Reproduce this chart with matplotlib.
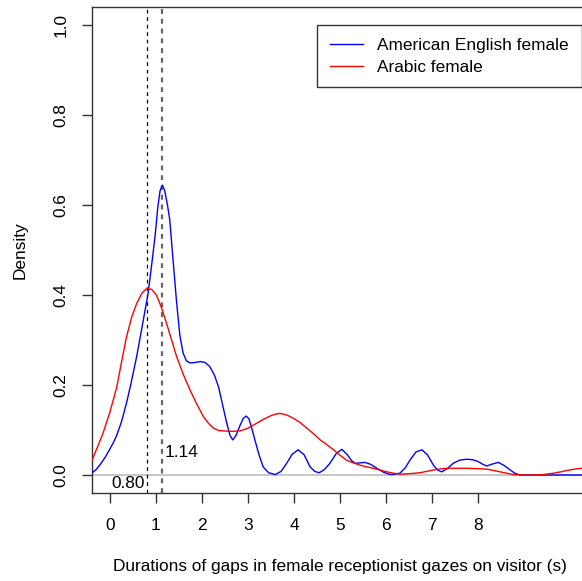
import matplotlib.pyplot as plt
import numpy as np

plt.rcParams['font.family'] = ['Liberation Sans', 'DejaVu Sans']

# density curves (x in seconds, y density)
eng_x = [-0.40, -0.30, -0.20, -0.10, 0.0, 0.08, 0.15, 0.25, 0.36, 0.45, 0.58, 0.70, 0.83,
         0.91, 0.98, 1.04, 1.09, 1.14, 1.19, 1.25, 1.30, 1.37, 1.45, 1.52, 1.59, 1.66,
         1.74, 1.85, 1.96, 2.07, 2.17, 2.27, 2.36, 2.45, 2.54, 2.61, 2.67, 2.74, 2.83,
         2.90, 2.96, 3.02, 3.08, 3.15, 3.24, 3.33, 3.45, 3.59, 3.72, 3.84, 3.96, 4.09,
         4.22, 4.35, 4.45, 4.55, 4.66, 4.78, 4.92, 5.04, 5.16, 5.25, 5.33, 5.44, 5.54,
         5.66, 5.80, 5.95, 6.09, 6.20, 6.30, 6.42, 6.52, 6.65, 6.78, 6.90, 7.03, 7.12,
         7.21, 7.33, 7.46, 7.60, 7.75, 7.88, 8.00, 8.10, 8.19, 8.30, 8.44, 8.57, 8.70,
         8.80, 8.91, 10.4]
eng_y = [0.004, 0.012, 0.025, 0.040, 0.058, 0.073, 0.089, 0.118, 0.160, 0.200, 0.263,
         0.330, 0.404, 0.470, 0.530, 0.595, 0.632, 0.644, 0.632, 0.600, 0.567, 0.480,
         0.382, 0.310, 0.271, 0.254, 0.249, 0.250, 0.252, 0.250, 0.241, 0.222, 0.196,
         0.155, 0.115, 0.088, 0.078, 0.088, 0.111, 0.126, 0.131, 0.125, 0.105, 0.078,
         0.045, 0.018, 0.005, 0.001, 0.008, 0.026, 0.046, 0.056, 0.045, 0.018, 0.008,
         0.005, 0.012, 0.026, 0.048, 0.057, 0.045, 0.032, 0.026, 0.027, 0.028, 0.024,
         0.015, 0.006, 0.001, 0.002, 0.004, 0.016, 0.033, 0.051, 0.056, 0.045, 0.022,
         0.011, 0.007, 0.014, 0.026, 0.033, 0.035, 0.034, 0.030, 0.024, 0.020, 0.024,
         0.028, 0.021, 0.011, 0.004, 0.0, 0.0]

arb_x = [-0.40, -0.28, -0.15, 0.0, 0.15, 0.25, 0.36, 0.47, 0.58, 0.70, 0.81, 0.91, 1.01,
         1.12, 1.23, 1.34, 1.45, 1.60, 1.74, 1.89, 2.03, 2.14, 2.25, 2.36, 2.46, 2.65,
         2.83, 3.00, 3.19, 3.34, 3.48, 3.59, 3.70, 3.85, 3.99, 4.14, 4.28, 4.43, 4.57,
         4.72, 4.86, 5.00, 5.14, 5.29, 5.43, 5.58, 5.72, 5.87, 6.02, 6.16, 6.30, 6.52,
         6.74, 6.88, 7.03, 7.20, 7.39, 7.75, 8.00, 8.19, 8.34, 8.48, 8.62, 8.77, 9.00,
         9.20, 9.42, 9.64, 9.80, 9.93, 10.10, 10.25, 10.4]
arb_y = [0.030, 0.060, 0.093, 0.140, 0.196, 0.250, 0.307, 0.350, 0.381, 0.405, 0.415,
         0.412, 0.400, 0.372, 0.337, 0.300, 0.263, 0.222, 0.189, 0.157, 0.130, 0.115,
         0.104, 0.099, 0.098, 0.097, 0.098, 0.104, 0.115, 0.124, 0.131, 0.135, 0.137,
         0.133, 0.126, 0.116, 0.104, 0.091, 0.078, 0.067, 0.056, 0.044, 0.033, 0.027,
         0.022, 0.018, 0.015, 0.011, 0.007, 0.004, 0.002, 0.003, 0.005, 0.008, 0.011,
         0.014, 0.015, 0.015, 0.014, 0.013, 0.010, 0.007, 0.004, 0.001, 0.0, 0.0, 0.001,
         0.004, 0.007, 0.010, 0.013, 0.015, 0.017]

series_labels = ["American English female", "Arabic female"]
medians = [0.80, 1.14]
median_labels = ["0.80", "1.14"]
x_ticks = [0, 1, 2, 3, 4, 5, 6, 7, 8]
y_ticks = [0.0, 0.2, 0.4, 0.6, 0.8, 1.0]

W, H = 582, 581
fig = plt.figure(figsize=(W / 100, H / 100), dpi=100)
ax = fig.add_axes([92 / W, (H - 493) / H, (588 - 92) / W, (493 - 7) / H])

fs = 12.4
ax.axhline(0, color="#bebebe", lw=1.2, zorder=1)
ax.plot(eng_x, eng_y, color="#0000ff", lw=1.0, label=series_labels[0], zorder=3)
ax.plot(arb_x, arb_y, color="#ff0000", lw=1.0, label=series_labels[1], zorder=3)
ax.axvline(medians[0], color="black", lw=0.9, ls=(0, (3, 3)), zorder=2)
ax.axvline(medians[1], color="#666666", lw=1.6, ls=(0, (2.2, 2.2)), zorder=2)

ax.text(medians[0] - 0.04, -0.018, median_labels[0], ha="right", va="center", fontsize=fs)
ax.text(medians[1] + 0.04, 0.049, median_labels[1], ha="left", va="center", fontsize=fs)

ax.set_xlim(-0.39, 10.39)
ax.set_ylim(-0.04, 1.04)
ax.set_xticks(x_ticks)
ax.set_xticklabels([str(t) for t in x_ticks])
ax.set_yticks(y_ticks)
ax.set_yticklabels([f"{t:.1f}" for t in y_ticks], rotation=90, va="center")
ax.tick_params(axis="x", length=7, width=1, pad=11, labelsize=fs, color="#333333")
ax.tick_params(axis="y", length=7, width=1, pad=10, labelsize=fs, color="#333333")
for s in ax.spines.values():
    s.set_linewidth(1.0)
    s.set_color("#333333")

fig.text(340 / W, 1 - 566 / H, "Durations of gaps in female receptionist gazes on visitor (s)",
         ha="center", va="center", fontsize=fs)
fig.text(20 / W, 1 - 250 / H, "Density", ha="center", va="center", rotation=90, fontsize=fs)

leg = ax.legend(loc="upper left", bbox_to_anchor=(317 / W, 1 - 25 / H),
                bbox_transform=fig.transFigure, fontsize=fs, frameon=True, fancybox=False,
                handlelength=1.9, handletextpad=0.85, borderpad=0.75, labelspacing=0.38,
                borderaxespad=0)
leg.get_frame().set_edgecolor("black")
leg.get_frame().set_linewidth(1.0)

fig.savefig("out.png", dpi=100)
